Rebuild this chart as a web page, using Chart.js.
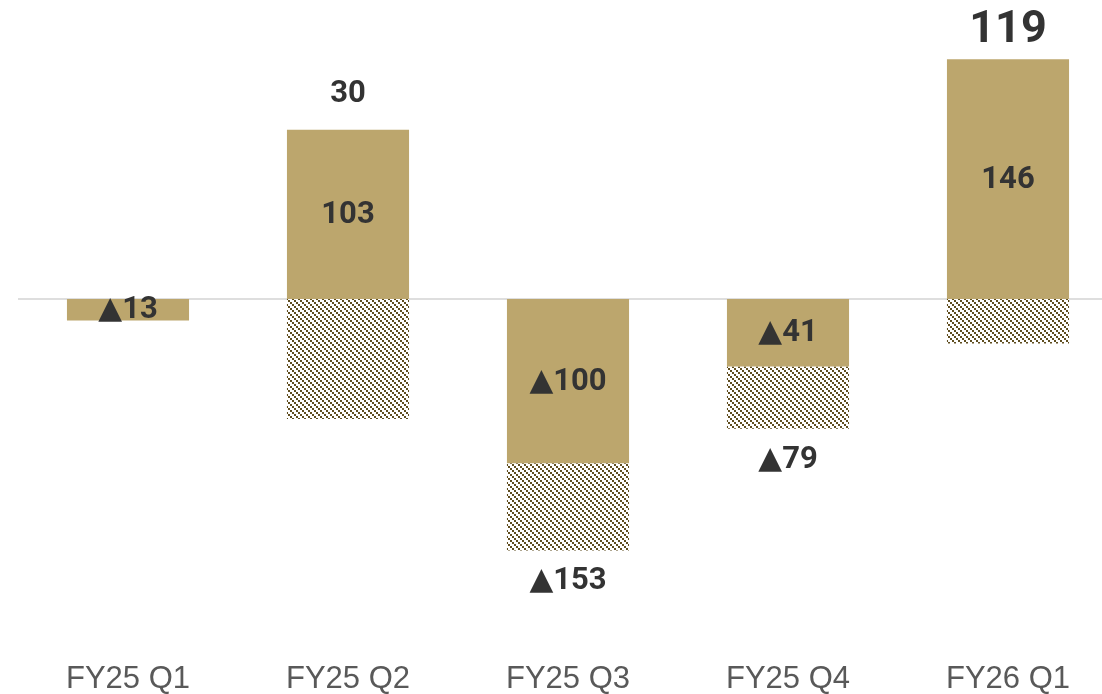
<!DOCTYPE html>
<html>
<head>
<meta charset="utf-8">
<script src="https://cdn.jsdelivr.net/npm/chart.js@4/dist/chart.umd.min.js"></script>
<style>
  html, body { margin: 0; padding: 0; background: #fff; overflow: hidden; }
  #wrap { width: 1118px; height: 694px; }
</style>
</head>
<body>
<div id="wrap"><canvas id="chart" width="1118" height="694"></canvas></div>
<script>
// quarters and values
const quarters = ["FY25 Q1", "FY25 Q2", "FY25 Q3", "FY25 Q4", "FY26 Q1"];
const goldValues = [-13, 103, -100, -41, 146];
const hatchValues = [0, -73, -53, -38, -27];
const totals = [null, 30, -153, -79, 119];

const GOLD = "#bca66d";
const HATCH = "#5f4d1f";
const TEXT = "#333333";

// hatch pattern: 2px squares on a diagonal, top-left to bottom-right
function makeHatch() {
  const c = document.createElement("canvas");
  c.width = 6;
  c.height = 6;
  const g = c.getContext("2d");
  g.fillStyle = "#ffffff";
  g.fillRect(0, 0, 6, 6);
  g.fillStyle = HATCH;
  for (let i = 0; i < 3; i++) {
    g.fillRect(i * 2, i * 2, 2, 2);
  }
  return g.createPattern(c, "repeat");
}

function fmt(v) {
  return v < 0 ? "▲" + Math.abs(v) : String(v);
}

const labelFont = "Roboto, 'DejaVu Sans', sans-serif";

// zero line, drawn under the bars
const zeroLine = {
  id: "zeroLine",
  beforeDatasetsDraw(chart) {
    const ctx = chart.ctx;
    const y = chart.scales.y.getPixelForValue(0);
    ctx.save();
    ctx.strokeStyle = "#dedede";
    ctx.lineWidth = 2;
    ctx.beginPath();
    ctx.moveTo(chart.chartArea.left, y);
    ctx.lineTo(chart.chartArea.right, y);
    ctx.stroke();
    ctx.restore();
  }
};

// value labels inside the gold bars and totals outside the stacks
const barLabels = {
  id: "barLabels",
  afterDatasetsDraw(chart) {
    const ctx = chart.ctx;
    const gold = chart.getDatasetMeta(0).data;
    const hatch = chart.getDatasetMeta(1).data;
    ctx.save();
    ctx.fillStyle = TEXT;
    ctx.textAlign = "center";
    ctx.textBaseline = "middle";

    gold.forEach((bar, i) => {
      ctx.font = "bold 31px " + labelFont;
      ctx.fillText(fmt(goldValues[i]), bar.x, (bar.y + bar.base) / 2 + 1);
    });

    totals.forEach((t, i) => {
      if (t === null) return;
      const a = gold[i], b = hatch[i];
      const last = i === totals.length - 1;
      ctx.font = "bold " + (last ? 45 : 31) + "px " + labelFont;
      if (t >= 0) {
        const top = Math.min(a.y, a.base, b.y, b.base);
        ctx.fillText(fmt(t), a.x, top - (last ? 28 : 36));
      } else {
        const bottom = Math.max(a.y, a.base, b.y, b.base);
        ctx.fillText(fmt(t), a.x, bottom + 31);
      }
    });
    ctx.restore();
  }
};

new Chart(document.getElementById("chart"), {
  type: "bar",
  data: {
    labels: quarters,
    datasets: [
      {
        label: "gold",
        data: goldValues,
        backgroundColor: GOLD,
        borderWidth: 0,
        categoryPercentage: 1,
        barPercentage: 0.555
      },
      {
        label: "hatch",
        data: hatchValues,
        backgroundColor: makeHatch(),
        borderWidth: 0,
        categoryPercentage: 1,
        barPercentage: 0.555
      }
    ]
  },
  options: {
    responsive: false,
    devicePixelRatio: 1,
    animation: false,
    layout: { padding: { left: 18, right: 0, top: 0, bottom: -24 } },
    plugins: {
      legend: { display: false },
      tooltip: { enabled: false }
    },
    scales: {
      x: {
        stacked: true,
        grid: { display: false, drawTicks: false },
        border: { display: false },
        ticks: {
          color: "#595959",
          padding: 20,
          font: { family: "'Liberation Sans', Arial, sans-serif", size: 31 }
        }
      },
      y: {
        stacked: true,
        display: false,
        min: -208,
        max: 182
      }
    }
  },
  plugins: [zeroLine, barLabels]
});
</script>
</body>
</html>
